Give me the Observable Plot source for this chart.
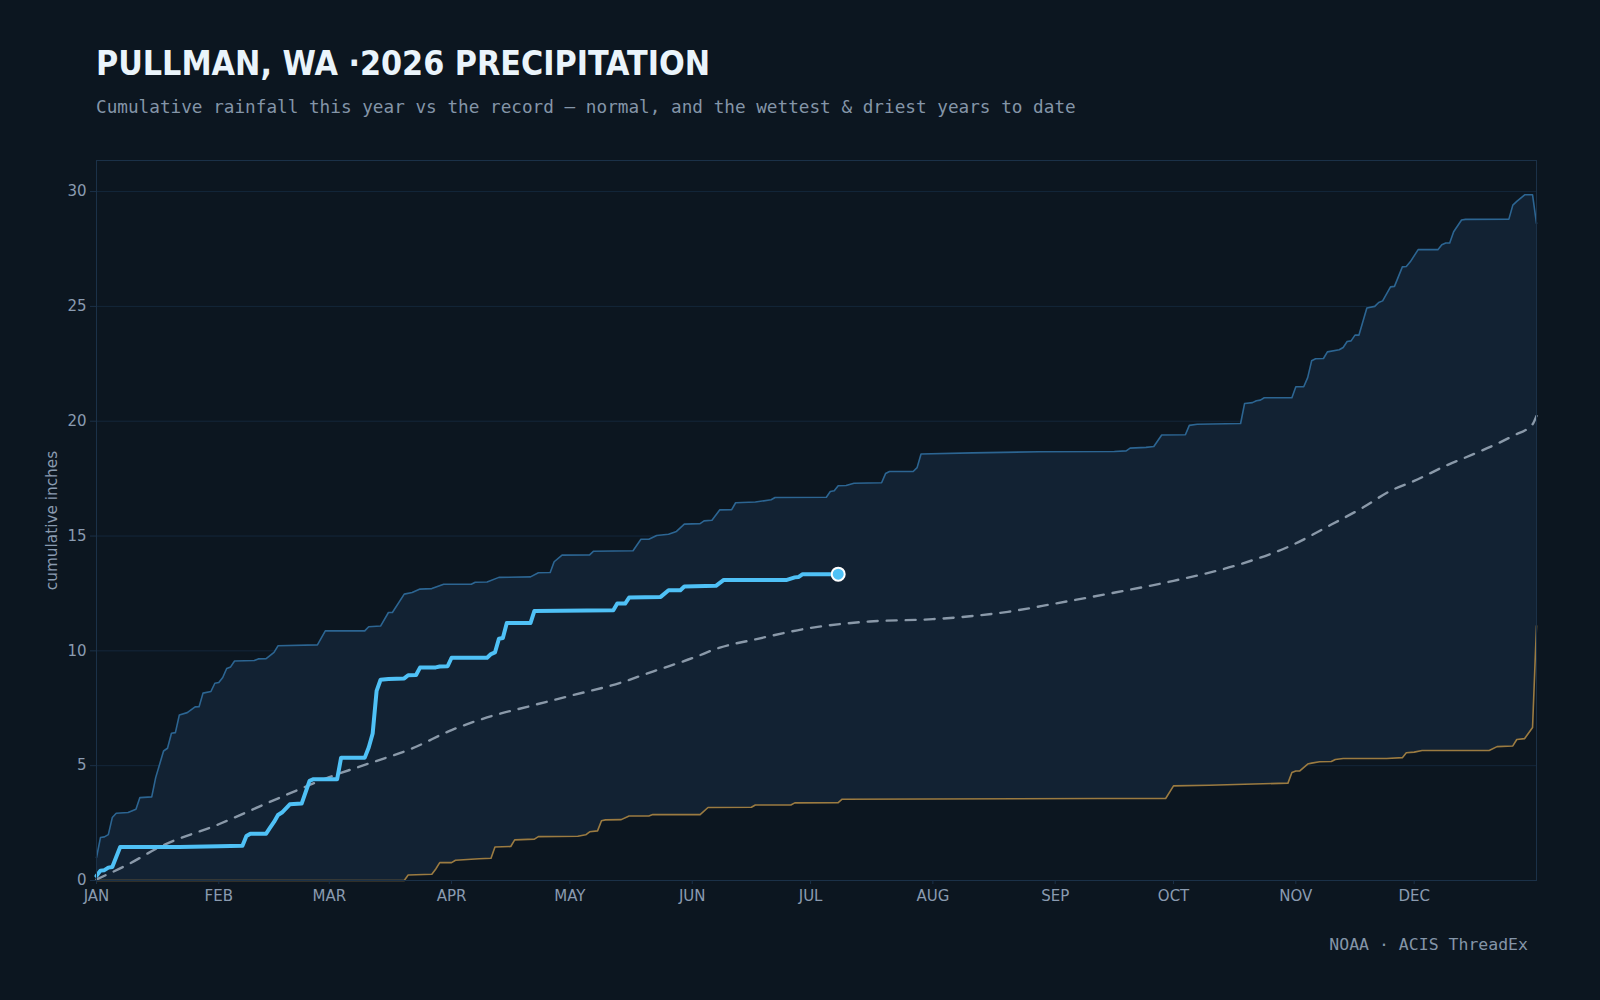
<!DOCTYPE html>
<html>
<head>
<meta charset="utf-8">
<script src="https://cdn.jsdelivr.net/npm/d3@7"></script>
<script src="https://cdn.jsdelivr.net/npm/@observablehq/plot@0.6"></script>
<style>
  html, body { margin: 0; padding: 0; background: #0c1620; }
  body { width: 1600px; height: 1000px; position: relative; overflow: hidden; }
  #title { position: absolute; left: 96px; top: 47px; margin: 0; font-family: "DejaVu Sans Condensed", "DejaVu Sans", sans-serif; font-stretch: condensed; font-weight: bold; font-size: 33.7px; line-height: 1; color: #eaf4fb; white-space: nowrap; }
  #subtitle { position: absolute; left: 96px; top: 99px; margin: 0; font-family: "DejaVu Sans Mono", monospace; font-size: 17.7px; line-height: 1; color: #8495a8; white-space: nowrap; }
  #chart { position: absolute; left: 0; top: 140px; }
  #caption { position: absolute; right: 72px; top: 937px; margin: 0; font-family: "DejaVu Sans Mono", monospace; font-size: 16.5px; line-height: 1; color: #8495a8; white-space: nowrap; }
</style>
</head>
<body>
<div id="title">PULLMAN, WA ·2026 PRECIPITATION</div>
<div id="subtitle">Cumulative rainfall this year vs the record — normal, and the wettest &amp; driest years to date</div>
<div id="chart"></div>
<div id="caption">NOAA · ACIS ThreadEx</div>
<script>
// ---- data (day index from Jan 1, cumulative inches) ----
const yTicks = [0, 5, 10, 15, 20, 25, 30];
const monthLabels = ["JAN","FEB","MAR","APR","MAY","JUN","JUL","AUG","SEP","OCT","NOV","DEC"];

const wettest = [
  [0,1.0],[1,1.87],[2,1.9],[3,2.0],[4,2.74],[5,2.93],[8,2.96],[10,3.1],[11,3.61],[14,3.64],
  [15,4.48],[17,5.64],[18,5.76],[19,6.41],[20,6.44],[21,7.21],[23,7.31],[25,7.56],[26,7.57],[27,8.16],
  [29,8.23],[30,8.59],[31,8.62],[32,8.84],[33,9.23],[34,9.3],[35,9.56],[40,9.58],[41,9.65],[43,9.66],
  [45,9.93],[46,10.22],[56,10.26],[58,10.87],[68,10.87],[69,11.05],[72,11.08],[74,11.67],[75,11.67],[78,12.47],
  [80,12.54],[82,12.69],[85,12.71],[88,12.9],[95,12.9],[96,12.99],[99,13.0],[102,13.2],[110,13.22],[112,13.4],
  [115,13.41],[116,13.88],[118,14.17],[125,14.18],[126,14.34],[136,14.36],[138,14.86],[140,14.86],[142,15.02],[145,15.08],
  [147,15.2],[149,15.52],[153,15.54],[154,15.66],[156,15.69],[158,16.14],[161,16.15],[162,16.45],[167,16.48],[171,16.58],
  [172,16.68],[185,16.69],[186,16.94],[187,16.97],[188,17.19],[190,17.2],[192,17.3],[199,17.32],[200,17.72],[201,17.81],
  [207,17.81],[208,17.98],[209,18.57],[222,18.62],[239,18.67],[258,18.68],[261,18.71],[262,18.83],[266,18.86],[268,18.9],
  [270,19.4],[276,19.41],[277,19.82],[279,19.87],[290,19.9],[291,20.77],[293,20.81],[294,20.89],[295,20.92],[296,21.02],
  [303,21.02],[304,21.5],[306,21.5],[307,21.9],[308,22.63],[309,22.72],[311,22.73],[312,23.02],[315,23.11],[316,23.21],
  [317,23.47],[318,23.5],[319,23.75],[320,23.75],[322,24.93],[324,25.0],[325,25.17],[326,25.24],[328,25.85],[329,25.87],
  [331,26.72],[332,26.74],[333,26.94],[335,27.47],[340,27.47],[341,27.68],[342,27.76],[343,27.76],[344,28.25],[346,28.76],
  [347,28.79],[358,28.8],[359,29.41],[360,29.57],[362,29.86],[364,29.86],[365,28.61]
];

const driest = [
  [0,0],[78,0],[79,0.24],[85,0.27],[86,0.5],[87,0.78],[90,0.78],[91,0.88],[97,0.95],[100,0.97],
  [101,1.46],[105,1.48],[106,1.77],[111,1.8],[112,1.91],[122,1.93],[124,1.99],[125,2.12],[127,2.16],[128,2.6],
  [129,2.64],[133,2.65],[135,2.81],[140,2.81],[141,2.87],[153,2.87],[155,3.18],[166,3.19],[167,3.29],[176,3.29],
  [177,3.38],[188,3.39],[189,3.54],[254,3.57],[271,3.57],[273,4.12],[282,4.15],[291,4.19],[302,4.24],[303,4.7],
  [304,4.77],[305,4.77],[307,5.07],[308,5.11],[310,5.17],[313,5.18],[314,5.27],[316,5.31],[327,5.31],[331,5.35],
  [332,5.56],[334,5.59],[336,5.66],[353,5.66],[355,5.83],[359,5.86],[360,6.14],[362,6.18],[364,6.66],[365,11.09]
];

const normal = [
  [0,0.05],[8,0.7],[16,1.46],[31,2.45],[45,3.5],[59,4.5],[70,5.15],[80,5.75],[90,6.55],[99,7.1],
  [110,7.6],[120,8.04],[133,8.62],[141,9.1],[151,9.68],[158,10.14],[167,10.5],[181,11.0],[196,11.28],[212,11.38],
  [231,11.7],[243,12.06],[256,12.47],[273,13.05],[290,13.78],[303,14.6],[313,15.5],[321,16.24],[328,16.97],[334,17.4],
  [342,18.06],[351,18.71],[359,19.36],[364,19.87],[365,20.23]
];

const current = [
  [0,0.2],[1,0.43],[2,0.45],[3,0.56],[4,0.59],[6,1.46],[21,1.46],[31,1.49],[37,1.51],[38,1.94],
  [39,2.04],[43,2.04],[44,2.3],[45,2.55],[46,2.85],[47,2.96],[49,3.32],[52,3.35],[54,4.34],[55,4.41],
  [61,4.41],[62,5.35],[68,5.35],[69,5.79],[70,6.4],[71,8.26],[72,8.74],[74,8.77],[78,8.8],[79,8.94],
  [81,8.95],[82,9.27],[86,9.28],[87,9.32],[89,9.33],[90,9.7],[99,9.7],[100,9.86],[101,9.93],[102,10.53],
  [103,10.56],[104,11.21],[110,11.21],[111,11.74],[131,11.77],[132,12.06],[134,12.06],[135,12.32],[143,12.35],[145,12.64],
  [148,12.64],[149,12.8],[157,12.83],[159,13.09],[175,13.09],[177,13.2],[178,13.22],[179,13.34],[188,13.34]
];

// ---- build ----
const toDate = d => new Date(Date.UTC(2026, 0, 1 + d));
const rows = arr => arr.map(([d, v]) => ({date: toDate(d), value: v}));
const wetRows = rows(wettest), dryRows = rows(driest), normRows = rows(normal), curRows = rows(current);
const bandRows = wetRows.concat(dryRows.slice().reverse());
const monthTicks = monthLabels.map((m, i) => new Date(Date.UTC(2026, i, 1)));
const yMax = d3.max(wettest, d => d[1]) * 1.05;

const BAND = "#122233", GRID = "#14273a", FRAME = "#1b3148";
const TXT = "#8a9bb0";

const chart = Plot.plot({
  width: 1600,
  height: 790,
  marginLeft: 96,
  marginRight: 64,
  marginTop: 20,
  marginBottom: 50,
  style: {background: "transparent", fontFamily: "DejaVu Sans, sans-serif", fontSize: "15px", color: TXT},
  x: {type: "utc", domain: [toDate(0), toDate(365)]},
  y: {domain: [0, yMax]},
  marks: [
    Plot.gridY(yTicks, {stroke: GRID, strokeOpacity: 1}),
    Plot.line(bandRows, {x: "date", y: "value", fill: BAND, stroke: "none"}),
    Plot.line(wetRows, {x: "date", y: "value", stroke: "#2c6592", strokeWidth: 1.6}),
    Plot.line(dryRows, {x: "date", y: "value", stroke: "#9b7b41", strokeWidth: 1.6}),
    Plot.line(normRows, {x: "date", y: "value", stroke: "#8a99a9", strokeWidth: 2.4, strokeDasharray: "10,9", curve: "monotone-x"}),
    Plot.line(curRows, {x: "date", y: "value", stroke: "#4fc1f6", strokeWidth: 4, strokeLinejoin: "round"}),
    Plot.dot(curRows.slice(-1), {x: "date", y: "value", r: 6.5, fill: "#4fc1f6", stroke: "#ffffff", strokeWidth: 2}),
    Plot.frame({stroke: FRAME}),
    Plot.axisY(yTicks, {tickSize: 6, tickPadding: 4, stroke: FRAME, fill: TXT, label: null}),
    Plot.axisX(monthTicks, {tickSize: 4, tickPadding: 6, stroke: FRAME, fill: TXT, label: null,
      tickFormat: d => monthLabels[d.getUTCMonth()]}),
    Plot.text(["cumulative inches"], {frameAnchor: "left", dx: -44, rotate: -90, textAnchor: "middle", fill: TXT, fontSize: 15.3})
  ]
});
document.getElementById("chart").appendChild(chart);
</script>
</body>
</html>
